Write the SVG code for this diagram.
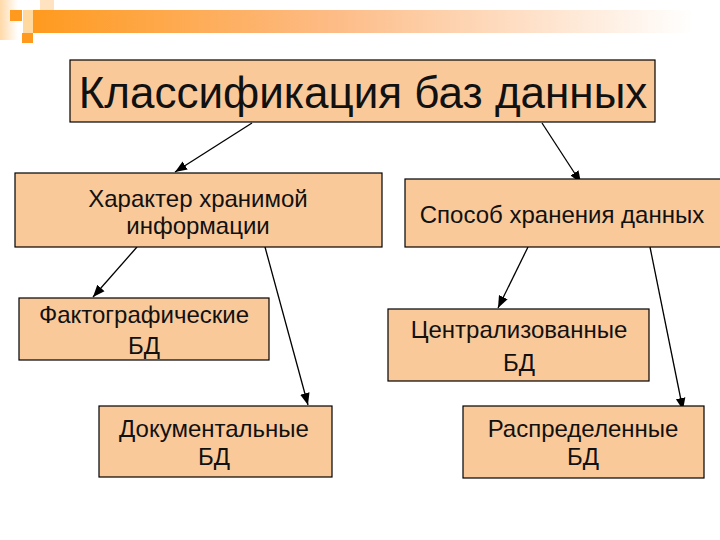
<svg xmlns="http://www.w3.org/2000/svg" width="720" height="540" viewBox="0 0 720 540">
<defs>
<linearGradient id="bar" x1="0" y1="0" x2="1" y2="0">
<stop offset="0" stop-color="#FF9A1E"/>
<stop offset="0.45" stop-color="#FDBB85"/>
<stop offset="1" stop-color="#FFFFFF"/>
</linearGradient>
<linearGradient id="side" x1="0" y1="0" x2="1" y2="0">
<stop offset="0" stop-color="#FFD9A8"/>
<stop offset="1" stop-color="#FFFFFF"/>
</linearGradient>
<marker id="ah" viewBox="0 0 10 10" refX="10" refY="5" markerWidth="12" markerHeight="12" markerUnits="userSpaceOnUse" orient="auto">
<path d="M0,1 L10,5 L0,9 z" fill="#000"/>
</marker>
</defs>
<style>
.box{fill:#FAC99A;stroke:#000;stroke-width:1.2}
.t{font-family:"Liberation Sans",Arial,sans-serif;fill:#111;text-anchor:middle}
.s{font-size:24px}
.c{stroke:#000;stroke-width:1.3;fill:none;marker-end:url(#ah)}
</style>
<rect width="720" height="540" fill="#fff"/>
<g id="decor">
<rect x="0" y="0" width="18" height="40" fill="url(#side)"/>
<rect x="40" y="0" width="14" height="10" fill="#FFE3C0"/>
<rect x="23" y="10" width="10" height="23" fill="#FFD9A0"/>
<rect x="33" y="10" width="660" height="23" fill="url(#bar)"/>
<rect x="10" y="10" width="12" height="11" fill="#FF9A1E"/>
<rect x="22" y="33" width="11" height="10" fill="#FF9A1E"/>
</g>
<g id="connectors">
<line class="c" x1="252" y1="123" x2="175" y2="172"/>
<line class="c" x1="542" y1="123" x2="581" y2="183"/>
<line class="c" x1="137" y1="247" x2="93" y2="297"/>
<line class="c" x1="265" y1="247" x2="308" y2="405"/>
<line class="c" x1="528" y1="247" x2="498" y2="308"/>
<line class="c" x1="650" y1="247" x2="683" y2="410"/>
</g>
<g id="root">
<rect class="box" x="70" y="60" width="585" height="62"/>
<text class="t" x="363" y="108" font-size="44">Классификация баз данных</text>
</g>
<g id="n-character">
<rect class="box" x="15" y="173" width="367" height="74"/>
<text class="t s" x="198" y="207">Характер хранимой</text>
<text class="t s" x="198" y="234">информации</text>
</g>
<g id="n-storage">
<rect class="box" x="405" y="179" width="320" height="68"/>
<text class="t s" x="562" y="223">Способ хранения данных</text>
</g>
<g id="n-fact">
<rect class="box" x="19" y="298" width="250" height="62"/>
<text class="t s" x="144" y="323">Фактографические</text>
<text class="t s" x="144" y="354">БД</text>
</g>
<g id="n-doc">
<rect class="box" x="99" y="406" width="233" height="71"/>
<text class="t s" x="214" y="437">Документальные</text>
<text class="t s" x="214" y="465">БД</text>
</g>
<g id="n-central">
<rect class="box" x="388" y="309" width="261" height="72"/>
<text class="t s" x="519" y="338">Централизованные</text>
<text class="t s" x="519" y="371">БД</text>
</g>
<g id="n-distrib">
<rect class="box" x="463" y="406" width="241" height="72"/>
<text class="t s" x="583" y="437">Распределенные</text>
<text class="t s" x="583" y="465">БД</text>
</g>
</svg>
